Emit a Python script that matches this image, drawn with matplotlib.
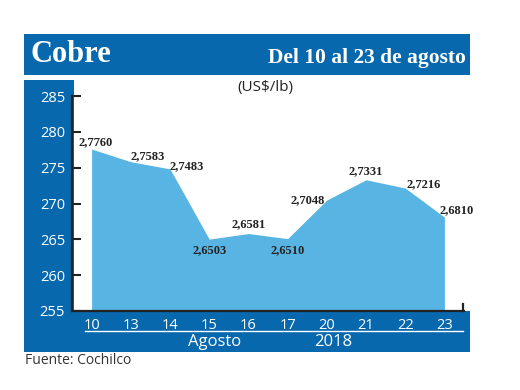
import matplotlib
matplotlib.use("Agg")
import matplotlib.pyplot as plt
from matplotlib.patches import Rectangle
from matplotlib.lines import Line2D

# data
days = ["10", "13", "14", "15", "16", "17", "20", "21", "22", "23"]
prices = [277.60, 275.83, 274.83, 265.03, 265.81, 265.10, 270.48, 273.31, 272.16, 268.10]
labels = ["2,7760", "2,7583", "2,7483", "2,6503", "2,6581", "2,6510", "2,7048", "2,7331", "2,7216", "2,6810"]
yticks = [255, 260, 265, 270, 275, 280, 285]
# label offsets in points (dx, dy)
offsets = [(3, 5), (12, 4), (12, 2), (0, -8), (0, 7), (0, -8), (-14, 0), (0, 6), (13, 3), (9, 5)]

DARK = "#0868AE"
LIGHT = "#58B5E3"
W, H = 520, 390


def fx(x):
    return x / W


def fy(y):
    return 1 - y / H


def rect(fig, x0, y0, x1, y1, color):
    fig.add_artist(Rectangle((fx(x0), fy(y1)), fx(x1) - fx(x0), fy(y0) - fy(y1),
                             transform=fig.transFigure, color=color, zorder=0, lw=0))


fig = plt.figure(figsize=(5.2, 3.9), dpi=100)
fig.patch.set_facecolor("white")

# blue panels
rect(fig, 24, 34, 470, 75, DARK)
rect(fig, 24, 80, 74, 352, DARK)
rect(fig, 24, 311, 470, 352, DARK)

fig.text(fx(30), fy(54), "Cobre", color="white", fontsize=22, fontweight="bold",
         family="Liberation Serif", va="center", ha="left")
fig.text(fx(466), fy(58), "Del 10 al 23 de agosto", color="white", fontsize=15.5,
         fontweight="bold", family="Liberation Serif", va="center", ha="right")
fig.text(fx(265), fy(87), "(US$/lb)", color="#222222", fontsize=11, family="Open Sans",
         va="center", ha="center")

ax = fig.add_axes([fx(72), fy(311), fx(464) - fx(72), fy(96) - fy(311)])
ax.patch.set_visible(False)
x = list(range(len(days)))
ax.fill_between(x, prices, 255, color=LIGHT, lw=0, zorder=1)
ax.set_xlim(-0.5, 9.5)
ax.set_ylim(255, 285)

for i, (v, lab) in enumerate(zip(prices, labels)):
    ax.annotate(lab, (i, v), xytext=offsets[i], textcoords="offset points",
                ha="center", va="center", fontsize=9, fontweight="bold",
                family="Liberation Serif", color="#222222")

ax.set_yticks(yticks)
ax.set_xticks(x)
ax.set_xticklabels(days)
ax.tick_params(axis="y", direction="in", length=6.5, width=1.5, pad=5,
               labelcolor="white", labelsize=10.5, color="#222222")
ax.tick_params(axis="x", length=0, pad=5, labelcolor="white", labelsize=10.5)
for t in ax.get_xticklabels() + ax.get_yticklabels():
    t.set_family("Open Sans")
ax.spines["top"].set_visible(False)
ax.spines["right"].set_visible(False)
ax.spines["left"].set_linewidth(1.6)
ax.spines["bottom"].set_linewidth(1.6)
ax.spines["left"].set_color("#222222")
ax.spines["bottom"].set_color("#222222")

# small end tick on the x axis
fig.add_artist(Line2D([fx(463), fx(463)], [fy(311), fy(304)], transform=fig.transFigure,
                      color="#222222", lw=1.6))
# white rule under day labels
fig.add_artist(Line2D([fx(85), fx(463)], [fy(331), fy(331)], transform=fig.transFigure,
                      color="white", lw=1.0))

fig.text(fx(215), fy(342), "Agosto", color="white", fontsize=12, family="Open Sans",
         ha="center", va="center")
fig.text(fx(333), fy(342), "2018", color="white", fontsize=12, family="Open Sans",
         ha="center", va="center")
fig.text(fx(25), fy(361), "Fuente: Cochilco", color="#333333", fontsize=10,
         family="Open Sans", ha="left", va="center")

fig.savefig("out.png", dpi=100)
